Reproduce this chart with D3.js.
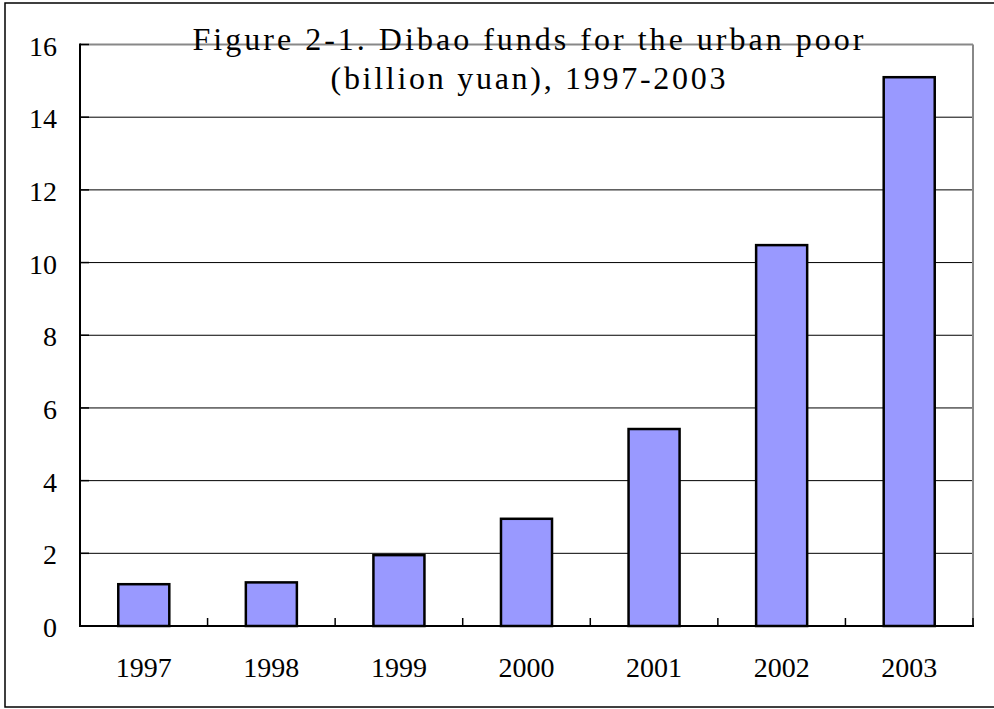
<!DOCTYPE html>
<html><head><meta charset="utf-8">
<script src="https://cdn.jsdelivr.net/npm/d3@7/dist/d3.min.js"></script>
<style>body{margin:0;background:#fff}svg{display:block}</style>
</head><body>
<script>
const categories = ["1997","1998","1999","2000","2001","2002","2003"];
const values = [1.15, 1.2, 1.95, 2.95, 5.42, 10.48, 15.1];
const yTicks = [0,2,4,6,8,10,12,14,16];
const titleLines = ["Figure 2-1. Dibao funds for the urban poor", "(billion yuan), 1997-2003"];

const W = 994, H = 709;
const svg = d3.select("body").append("svg").attr("width", W).attr("height", H);

// outer frame
svg.append("rect").attr("x",5).attr("y",3).attr("width",1000).attr("height",704)
  .attr("fill","#fff").attr("stroke","#000").attr("stroke-width",1.5);

const L = 80, R = 973, T = 44.5, B = 626;
const x = d3.scaleBand().domain(categories).range([L, R]).paddingInner(0.6).paddingOuter(0.3);
const y = d3.scaleLinear().domain([0,16]).range([B, T]);

// gridlines
svg.append("g").selectAll("line").data(yTicks.filter(v => v > 0 && v < 16)).join("line")
  .attr("x1", L).attr("x2", R).attr("y1", d => y(d)).attr("y2", d => y(d))
  .attr("stroke","#000").attr("stroke-width",1);

// top and right plot borders (gray)
svg.append("line").attr("x1",L).attr("x2",R).attr("y1",y(16)).attr("y2",y(16))
  .attr("stroke","#888").attr("stroke-width",2);
svg.append("line").attr("x1",R).attr("x2",R).attr("y1",y(16)).attr("y2",B)
  .attr("stroke","#888").attr("stroke-width",2);

// bars
svg.append("g").selectAll("rect").data(categories).join("rect")
  .attr("x", d => x(d)).attr("width", x.bandwidth())
  .attr("y", (d,i) => y(values[i])).attr("height", (d,i) => B - y(values[i]))
  .attr("fill","#9999FF").attr("stroke","#000").attr("stroke-width",2.5);

// y ticks (inside)
svg.append("g").selectAll("line").data(yTicks).join("line")
  .attr("x1", L).attr("x2", L + 9).attr("y1", d => y(d)).attr("y2", d => y(d))
  .attr("stroke","#000").attr("stroke-width",1.5);

// x ticks at band boundaries (inside)
const bounds = categories.map((c,i) => L + (i+1)*((R-L)/categories.length));
svg.append("g").selectAll("line").data(bounds).join("line")
  .attr("x1", d => d).attr("x2", d => d).attr("y1", B).attr("y2", B - 8)
  .attr("stroke","#000").attr("stroke-width",1.5);

// axes lines
svg.append("line").attr("x1",L).attr("x2",L).attr("y1",T-1).attr("y2",B+1)
  .attr("stroke","#000").attr("stroke-width",2);
svg.append("line").attr("x1",L).attr("x2",R+1).attr("y1",B).attr("y2",B)
  .attr("stroke","#000").attr("stroke-width",2);

const serif = "'Liberation Serif', 'Times New Roman', serif";

// y labels
svg.append("g").selectAll("text").data(yTicks).join("text")
  .attr("x", 57).attr("y", d => y(d) + 11)
  .attr("text-anchor","end")
  .attr("font-family", serif)
  .attr("font-size", 28).attr("fill","#000")
  .text(d => d);

// x labels
svg.append("g").selectAll("text").data(categories).join("text")
  .attr("x", d => x(d) + x.bandwidth()/2).attr("y", 677)
  .attr("text-anchor","middle")
  .attr("font-family", serif)
  .attr("font-size", 28).attr("fill","#000")
  .text(d => d);

// title
const titleWidths = [671, 395];
const titleY = [50, 89];
svg.append("g").selectAll("text").data(titleLines).join("text")
  .attr("x", (d,i) => 528 - titleWidths[i]/2).attr("y", (d,i) => titleY[i])
  .attr("textLength", (d,i) => titleWidths[i]).attr("lengthAdjust","spacing")
  .attr("font-family", serif)
  .attr("font-size", 32).attr("fill","#000")
  .attr("xml:space","preserve")
  .text(d => d);
</script>
</body></html>
